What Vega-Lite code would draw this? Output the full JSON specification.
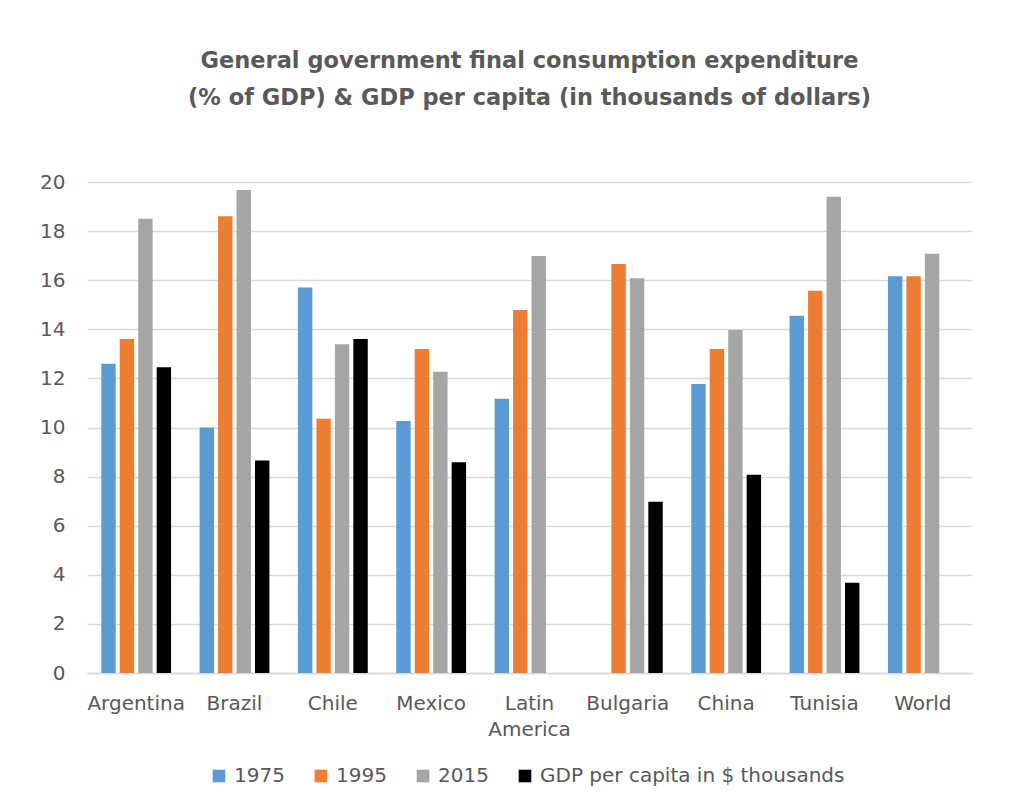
{
  "$schema": "https://vega.github.io/schema/vega-lite/v6.json",
  "autosize": {"type": "none"},
  "width": 885,
  "height": 491,
  "padding": {"left": 87, "top": 182, "right": 57, "bottom": 136},
  "background": "white",
  "title": {
    "text": ["General government final consumption expenditure", "(% of GDP) & GDP per capita (in thousands of dollars)"],
    "anchor": "middle",
    "font": "DejaVu Sans",
    "fontSize": 22.5,
    "fontWeight": "bold",
    "color": "#595959",
    "lineHeight": 37,
    "offset": 63
  },
  "data": {
    "values": [
      {"country": "Argentina", "series": "1975", "value": 12.6},
      {"country": "Argentina", "series": "1995", "value": 13.6},
      {"country": "Argentina", "series": "2015", "value": 18.5},
      {"country": "Argentina", "series": "GDP per capita in $ thousands", "value": 12.45},
      {"country": "Brazil", "series": "1975", "value": 10.0},
      {"country": "Brazil", "series": "1995", "value": 18.6},
      {"country": "Brazil", "series": "2015", "value": 19.67},
      {"country": "Brazil", "series": "GDP per capita in $ thousands", "value": 8.66},
      {"country": "Chile", "series": "1975", "value": 15.7},
      {"country": "Chile", "series": "1995", "value": 10.36},
      {"country": "Chile", "series": "2015", "value": 13.39},
      {"country": "Chile", "series": "GDP per capita in $ thousands", "value": 13.6},
      {"country": "Mexico", "series": "1975", "value": 10.26},
      {"country": "Mexico", "series": "1995", "value": 13.2},
      {"country": "Mexico", "series": "2015", "value": 12.27},
      {"country": "Mexico", "series": "GDP per capita in $ thousands", "value": 8.58},
      {"country": "Latin America", "series": "1975", "value": 11.17},
      {"country": "Latin America", "series": "1995", "value": 14.79},
      {"country": "Latin America", "series": "2015", "value": 16.99},
      {"country": "Bulgaria", "series": "1995", "value": 16.66},
      {"country": "Bulgaria", "series": "2015", "value": 16.08},
      {"country": "Bulgaria", "series": "GDP per capita in $ thousands", "value": 6.98},
      {"country": "China", "series": "1975", "value": 11.77},
      {"country": "China", "series": "1995", "value": 13.2},
      {"country": "China", "series": "2015", "value": 13.97},
      {"country": "China", "series": "GDP per capita in $ thousands", "value": 8.08},
      {"country": "Tunisia", "series": "1975", "value": 14.55},
      {"country": "Tunisia", "series": "1995", "value": 15.57},
      {"country": "Tunisia", "series": "2015", "value": 19.4},
      {"country": "Tunisia", "series": "GDP per capita in $ thousands", "value": 3.68},
      {"country": "World", "series": "1975", "value": 16.16},
      {"country": "World", "series": "1995", "value": 16.16},
      {"country": "World", "series": "2015", "value": 17.08}
    ]
  },
  "mark": {"type": "bar"},
  "encoding": {
    "x": {
      "field": "country",
      "type": "nominal",
      "sort": ["Argentina", "Brazil", "Chile", "Mexico", "Latin America", "Bulgaria", "China", "Tunisia", "World"],
      "scale": {"paddingInner": 0.29, "paddingOuter": 0.145},
      "axis": {
        "title": null,
        "labelAngle": 0,
        "labelFont": "DejaVu Sans",
        "labelFontSize": 20,
        "labelColor": "#595959",
        "labelPadding": 20,
        "labelLineHeight": 26,
        "labelBaseline": "top",
        "labelLimit": 0,
        "ticks": false,
        "domain": true,
        "domainColor": "#d9d9d9",
        "domainWidth": 1.5,
        "labelExpr": "datum.label == 'Latin America' ? ['Latin', 'America'] : datum.label"
      }
    },
    "xOffset": {
      "field": "series",
      "type": "nominal",
      "scale": {"domain": ["1975", "1995", "2015", "GDP per capita in $ thousands"], "paddingInner": 0.22, "paddingOuter": 0}
    },
    "y": {
      "field": "value",
      "type": "quantitative",
      "scale": {"domain": [0, 20], "nice": false},
      "axis": {
        "title": null,
        "values": [0, 2, 4, 6, 8, 10, 12, 14, 16, 18, 20],
        "labelFont": "DejaVu Sans",
        "labelFontSize": 20,
        "labelColor": "#595959",
        "labelPadding": 22,
        "ticks": false,
        "domain": false,
        "grid": true,
        "gridColor": "#d9d9d9",
        "gridWidth": 1.5
      }
    },
    "color": {
      "field": "series",
      "type": "nominal",
      "scale": {
        "domain": ["1975", "1995", "2015", "GDP per capita in $ thousands"],
        "range": ["#5B9BD5", "#ED7D31", "#A5A5A5", "#000000"]
      },
      "legend": {
        "title": null,
        "orient": "none",
        "legendX": 122,
        "legendY": 584,
        "direction": "horizontal",
        "padding": 0,
        "symbolType": "square",
        "symbolSize": 160,
        "symbolStrokeWidth": 0,
        "labelFont": "DejaVu Sans",
        "labelFontSize": 20,
        "labelColor": "#595959",
        "labelOffset": 5,
        "labelLimit": 0,
        "columnPadding": 26
      }
    }
  },
  "config": {
    "view": {"stroke": null}
  }
}
